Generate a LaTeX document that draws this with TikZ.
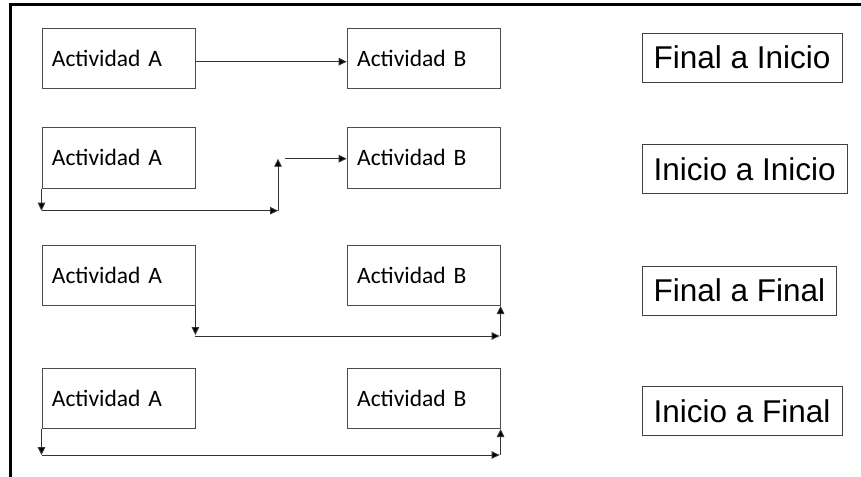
\documentclass[tikz,border=0pt]{standalone}
\usepackage{fontspec}
\usetikzlibrary{arrows.meta,calc}
\newfontfamily\actfont{Carlito}
\newfontfamily\labfont{Liberation Sans}
\begin{document}
\begin{tikzpicture}[x=1pt,y=-1pt,
  actbox/.style={draw=black!70, line width=0.9pt, anchor=north west,
    minimum width=153pt, minimum height=60.6pt, text width=133pt,
    inner xsep=10pt, align=left, font=\actfont\fontsize{23.5}{26}\selectfont},
  labbox/.style={draw=black!75, line width=0.9pt, anchor=west,
    minimum height=49pt, inner xsep=11.5pt,
    font=\labfont\fontsize{31.5}{34}\selectfont},
  link/.style={draw=black!80, line width=0.9pt,
    -{Triangle[length=8pt,width=7.5pt,fill=black]}}]
\useasboundingbox (0,0) rectangle (861,476);
\clip (0,0) rectangle (861,476);
% outer frame, running past the right and bottom edges
\draw[line width=3pt] (10,4.5) rectangle (900,520);

% activity boxes
\node[actbox] (A1) at (41.5,27.7)  {Actividad A};
\node[actbox] (B1) at (346.7,27.7) {Actividad B};
\node[actbox] (A2) at (41.5,127)   {Actividad A};
\node[actbox] (B2) at (346.7,127)  {Actividad B};
\node[actbox] (A3) at (41.5,244.5) {Actividad A};
\node[actbox] (B3) at (346.7,244.5){Actividad B};
\node[actbox] (A4) at (41.5,367.5) {Actividad A};
\node[actbox] (B4) at (346.7,367.5){Actividad B};

% relationship labels
\node[labbox] (L1) at (641.7,57.7)  {Final a Inicio};
\node[labbox] (L2) at (641.7,168.8) {Inicio a Inicio};
\node[labbox] (L3) at (641.7,290.5) {Final a Final};
\node[labbox] (L4) at (641.7,411)   {Inicio a Final};

% helper points for the routed links
\coordinate (r1) at (0,61.7);
\coordinate (r2) at (0,158.7);
\coordinate (s2a) at (A2.south west |- 0,210.7);
\coordinate (s2b) at (278,210.7);
\coordinate (s2c) at (278,158.7);
\coordinate (s2d) at (284.5,158.7);
\coordinate (f3a) at (A3.south east |- 0,336);
\coordinate (f3b) at (B3.south east |- 0,336);
\coordinate (f4a) at (A4.south west |- 0,455);
\coordinate (f4b) at (B4.south east |- 0,455);

% Final a Inicio
\draw[link] (A1.east |- r1) -- (B1.west |- r1);

% Inicio a Inicio
\draw[link] (A2.south west) -- (s2a);
\draw[link] (s2a) -- (s2b);
\draw[link] (s2b) -- (s2c);
\draw[link] (s2d) -- (B2.west |- r2);

% Final a Final
\draw[link] (A3.south east) -- ($(f3a)+(0,-1)$);
\draw[link] (f3a) -- ($(f3b)+(-1,0)$);
\draw[link] (f3b) -- (B3.south east);

% Inicio a Final
\draw[link] (A4.south west) -- (f4a);
\draw[link] (f4a) -- ($(f4b)+(-1,0)$);
\draw[link] (f4b) -- (B4.south east);
\end{tikzpicture}
\end{document}
